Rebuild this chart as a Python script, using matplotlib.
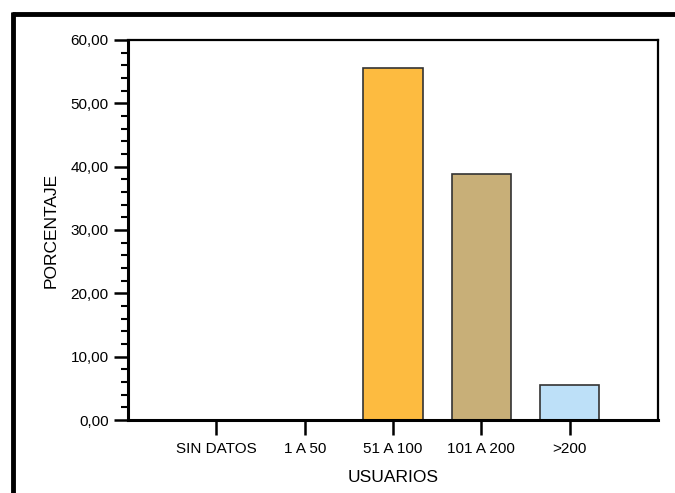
import matplotlib
matplotlib.use("Agg")
import matplotlib.pyplot as plt
from matplotlib.lines import Line2D
from matplotlib.ticker import MultipleLocator, FuncFormatter

plt.rcParams['font.family'] = ['Liberation Sans', 'DejaVu Sans']

categorias = ['SIN DATOS', '1 A 50', '51 A 100', '101 A 200', '>200']
porcentajes = [0.0, 0.0, 55.56, 38.89, 5.56]
colores = ['#FDBB40', '#FDBB40', '#FDBB40', '#C8AF78', '#BDE0F8']

fig = plt.figure(figsize=(6.75, 4.93), dpi=100)
ax = fig.add_axes([0.1896, 0.148, 0.7854, 0.771])

pos = list(range(1, len(categorias) + 1))
for p, v, c in zip(pos, porcentajes, colores):
    if v > 0:
        ax.bar(p, v, width=0.67, color=c, edgecolor='#333333', linewidth=1.2, zorder=2)

ax.set_xlim(0, 6)
ax.set_ylim(0, 60)
ax.set_xticks(pos)
ax.set_xticklabels(categorias)
ax.yaxis.set_major_locator(MultipleLocator(10))
ax.yaxis.set_minor_locator(MultipleLocator(2))
ax.yaxis.set_major_formatter(FuncFormatter(lambda v, _: f"{v:.2f}".replace('.', ',')))

ax.tick_params(axis='y', which='major', direction='out', length=10, width=1.8, labelsize=11, pad=4)
ax.tick_params(axis='y', which='minor', direction='out', length=5, width=1.5)
ax.tick_params(axis='x', which='major', direction='out', length=11, width=1.8, labelsize=11, pad=5)

for s in ['left', 'bottom']:
    ax.spines[s].set_linewidth(2.2)
for s in ['top', 'right']:
    ax.spines[s].set_linewidth(1.6)

ax.set_ylabel('PORCENTAJE', fontsize=12.5)
ax.set_xlabel('USUARIOS', fontsize=12.5)
ax.yaxis.set_label_coords(-0.145, 0.5)
ax.yaxis.label.set_va('center')
ax.xaxis.set_label_coords(0.5, -0.15)
ax.xaxis.label.set_va('center')

# marco exterior (cortado a la derecha y abajo)
fig.add_artist(Line2D([0.0185, 1.0], [0.972, 0.972], color='black', linewidth=3.5,
                      transform=fig.transFigure, solid_capstyle='butt'))
fig.add_artist(Line2D([0.0195, 0.0195], [0.0, 0.975], color='black', linewidth=3.5,
                      transform=fig.transFigure, solid_capstyle='butt'))

fig.savefig('out.png', dpi=100)
